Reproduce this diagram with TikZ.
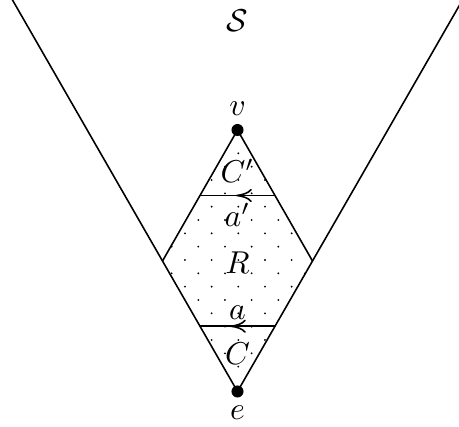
\documentclass[tikz,border=0pt]{standalone}
\usetikzlibrary{decorations.markings,arrows.meta,calc}
\begin{document}
\begin{tikzpicture}[x=0.3164pt,y=-0.3164pt,line width=0.5pt,
  lbl/.style={inner sep=0pt,anchor=base},
  vdot/.style={fill=black},
  chord/.style={postaction={decorate},decoration={markings,
    mark=at position #1 with {\arrow{To[length=5pt,width=4.2pt]}}}}]
\useasboundingbox (0,0) rectangle (459,427);
\coordinate (v) at (237.5,130);
\coordinate (e) at (237.5,391.5);
\coordinate (l) at (162.5,261);
\coordinate (r) at (312.5,261);
\coordinate (tl) at ($(e)!3.1!(l)$);
\coordinate (tr) at ($(e)!3.1!(r)$);
\coordinate (ul) at ($(v)!0.5!(l)$);
\coordinate (ur) at ($(v)!0.5!(r)$);
\coordinate (dl) at ($(e)!0.5!(l)$);
\coordinate (dr) at ($(e)!0.5!(r)$);
% dotted region
\begin{scope}
  \clip (v) -- (l) -- (e) -- (r) -- cycle;
  \foreach \n in {-8,...,12}{
    \pgfmathsetmacro\off{mod(abs(\n),2)*13.333}
    \foreach \j in {-4,...,3}{
      \fill (238.33+\off+26.667*\j,233.33+13.333*\n) circle (0.32pt);
    }
  }
\end{scope}
% outer lines and diamond
\begin{scope}
  \clip (0,0) rectangle (459,427);
  \draw (tl) -- (e) -- (tr);
  \draw (l) -- (v) -- (r);
\end{scope}
% chords
\draw[chord=0.52] (ur) -- (ul);
\draw[chord=0.6] (dr) -- (dl);
% vertices
\fill[vdot] (v) circle (1.9pt);
\fill[vdot] (e) circle (1.9pt);
% labels
\node[lbl] (Sl) at (237.5,32) {$\mathcal{S}$};
\node[lbl] (vl) at (237.5,116) {$v$};
\node[lbl] (Cpl) at (237.5,182.5) {$C'$};
\node[lbl] (apl) at (237.5,227) {$a'$};
\node[lbl] (Rl) at (237.5,273.3) {$R$};
\node[lbl] (al) at (237.5,320) {$a$};
\node[lbl] (Cl) at (237.5,365) {$C$};
\node[lbl] (el) at (237.5,420) {$e$};
\end{tikzpicture}
\end{document}
